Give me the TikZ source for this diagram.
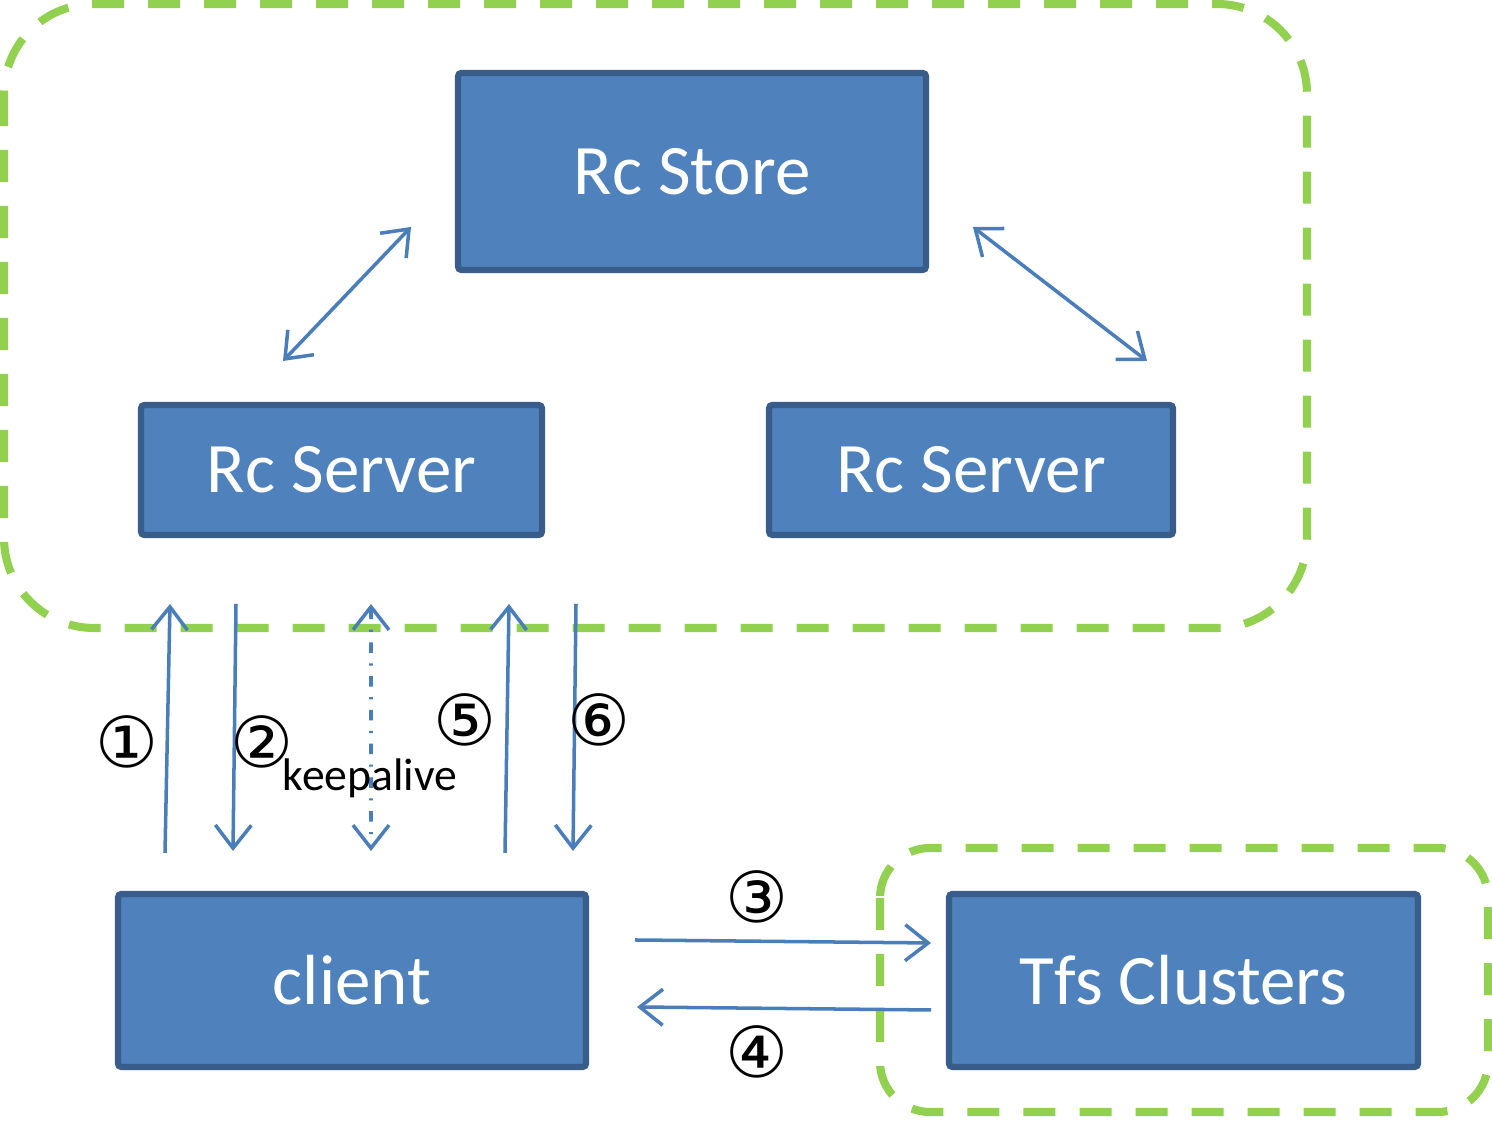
\documentclass[tikz,border=0pt]{standalone}
\usepackage{fontspec}
\setmainfont{Carlito}
\newfontfamily\circfont{DejaVu Sans}
\usetikzlibrary{arrows.meta}
\definecolor{boxfill}{HTML}{4F81BD}
\definecolor{boxline}{HTML}{385D8A}
\definecolor{grpline}{HTML}{92D050}
\definecolor{arrline}{HTML}{4A7EBB}
\begin{document}
\begin{tikzpicture}[
		blk/.style={draw=boxline, fill=boxfill, line width=1.8pt, rounded corners=1pt, text=white, font=\fontsize{20.2}{24}\selectfont, inner sep=0pt, outer sep=0pt},
		grpbox/.style={draw=grpline, line width=2.3pt, dash pattern=on 0.32cm off 0.24cm},
		link/.style={draw=arrline, line width=1pt, -{Straight Barb[length=2.3mm,width=3.6mm]}},
		dlink/.style={link, {Straight Barb[length=2.3mm,width=3.6mm]}-{Straight Barb[length=2.3mm,width=3.6mm]}},
		num/.style={font=\circfont\fontsize{20}{24}\selectfont, inner sep=0pt}
	]
	\useasboundingbox (0,0) rectangle (14.92,11.24);
	% groups
	\draw[grpbox, rounded corners=0.9cm] (0.04,11.20) rectangle (13.07,4.96);
	\draw[grpbox, rounded corners=0.5cm] (8.80,2.76) rectangle (14.88,0.12);
	% boxes
	\node[blk, minimum width=4.68cm, minimum height=1.97cm] (store) at (6.92,9.525) {Rc Store};
	\node[blk, minimum width=4.01cm, minimum height=1.30cm] (srvL) at (3.415,6.54) {Rc Server};
	\node[blk, minimum width=4.04cm, minimum height=1.30cm] (srvR) at (9.71,6.54) {Rc Server};
	\node[blk, minimum width=4.68cm, minimum height=1.73cm] (client) at (3.52,1.435) {client};
	\node[blk, minimum width=4.69cm, minimum height=1.73cm] (tfs) at (11.835,1.435) {Tfs Clusters};
	% store <-> servers
	\draw[dlink] ([xshift=1.42cm,yshift=0.44cm]srvL.north west) -- ([xshift=-0.47cm,yshift=0.43cm]store.south west);
	\draw[dlink] ([xshift=0.47cm,yshift=0.43cm]store.south east) -- ([xshift=-0.26cm,yshift=0.44cm]srvR.north east);
	% client <-> server
	\draw[link] ([xshift=0.47cm,yshift=0.41cm]client.north west) -- ([xshift=0.29cm,yshift=-0.69cm]srvL.south west);
	\draw[link] ([xshift=0.95cm,yshift=-0.69cm]srvL.south west) -- ([xshift=1.15cm,yshift=0.43cm]client.north west);
	\draw[dlink, dash pattern=on 3pt off 3pt on 0.6pt off 3pt] ([xshift=2.30cm,yshift=-0.69cm]srvL.south west) -- ([xshift=2.53cm,yshift=0.43cm]client.north west);
	\draw[link] ([xshift=3.87cm,yshift=0.41cm]client.north west) -- ([xshift=3.68cm,yshift=-0.69cm]srvL.south west);
	\draw[link] ([xshift=4.35cm,yshift=-0.69cm]srvL.south west) -- ([xshift=4.55cm,yshift=0.43cm]client.north west);
	% client <-> tfs
	\draw[link] ([xshift=0.49cm,yshift=-0.46cm]client.north east) -- ([xshift=-0.18cm,yshift=-0.49cm]tfs.north west);
	\draw[link] ([xshift=-0.18cm,yshift=-1.16cm]tfs.north west) -- ([xshift=0.51cm,yshift=-1.13cm]client.north east);
	% labels
	\node[num] (n1) at (1.27,3.82) {①};
	\node[num] (n2) at (2.62,3.82) {②};
	\node[font=\fontsize{13}{15}\selectfont, inner sep=0pt] (ka) at (3.70,3.46) {keepalive};
	\node[num] (n5) at (4.65,4.04) {⑤};
	\node[num] (n6) at (5.99,4.04) {⑥};
	\node[num] (n3) at (7.57,2.27) {③};
	\node[num] (n4) at (7.57,0.72) {④};
\end{tikzpicture}
\end{document}
